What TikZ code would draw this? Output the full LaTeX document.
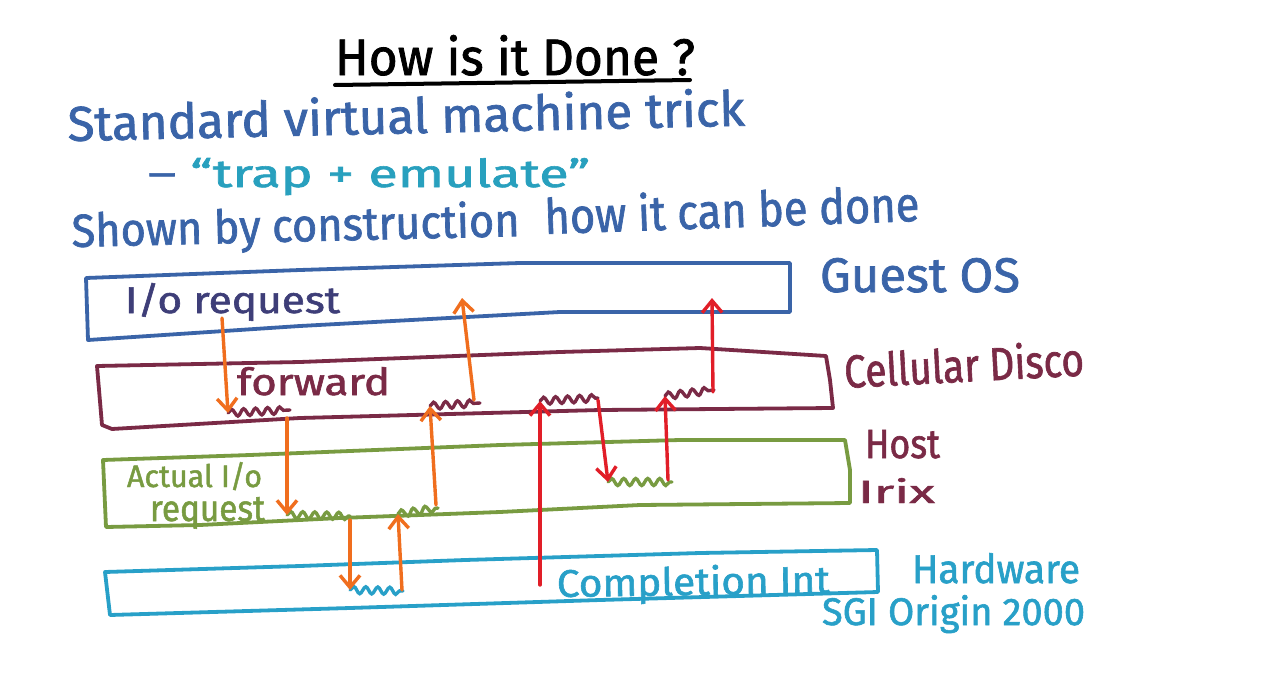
\documentclass[tikz,border=0pt]{standalone}
\usepackage{fontspec}
\setmainfont{Fira Sans}[FakeBold=1.5]
\usetikzlibrary{arrows.meta,decorations.pathmorphing}
\definecolor{penblue}{RGB}{58,100,168}
\definecolor{penteal}{RGB}{40,160,190}
\definecolor{pennavy}{RGB}{62,62,120}
\definecolor{penmaroon}{RGB}{122,42,70}
\definecolor{pengreen}{RGB}{120,155,65}
\definecolor{pencyan}{RGB}{40,160,200}
\definecolor{penorange}{RGB}{240,110,30}
\definecolor{penred}{RGB}{225,30,40}
\newcommand{\fitt}[3]{\resizebox{#1pt}{#2pt}{#3}}
\tikzset{
  txt/.style={inner sep=0pt, outer sep=0pt, anchor=base west},
  layerbox/.style={line width=3.8pt, line join=round, line cap=round},
  squig/.style={line width=3.4pt, line cap=round, decorate,
    decoration={snake, segment length=12pt, amplitude=3.5pt, post length=1pt}},
  flow/.style={line width=3.4pt, line cap=round,
    -{Straight Barb[length=12pt,width=20pt,line width=3.4pt]}},
}
\begin{document}
\begin{tikzpicture}[x=1pt,y=-1pt]
\useasboundingbox (0,0) rectangle (1288,677);
\fill[white] (0,0) rectangle (1288,677);

% ---- headings
\node[txt] (title) at (335,75) {\fitt{360}{40}{How is it Done ?}};
\coordinate (ulA) at (335,85);
\coordinate (ulB) at (690,80);
\draw[line width=4pt, line cap=round] (ulA) -- (ulB);

\node[txt, text=penblue, rotate=1.3] (l1) at (68,141) {\fitt{677}{38}{Standard virtual machine trick}};
\node[txt] (l2) at (148,187) {\fitt{442}{29}{\textcolor{penblue}{– }\textcolor{penteal}{“trap + emulate”}}};
\node[txt, text=penblue, rotate=1.4] (l3a) at (72,247) {\fitt{448}{36}{Shown by construction}};
\node[txt, text=penblue, rotate=2] (l3b) at (545,234) {\fitt{375}{38}{how it can be done}};

% ---- layer boxes
\draw[layerbox, penblue] (86,278) -- (300,270) -- (520,263) -- (790,263) -- (790,312)
  -- (560,312) -- (300,326) -- (88,340) -- cycle;
\draw[layerbox, penmaroon] (97,366) -- (300,362) -- (560,352) -- (700,348) -- (826,356)
  -- (830,380) -- (833,408) -- (600,410) -- (300,418) -- (112,429) -- (102,425) -- cycle;
\draw[layerbox, pengreen] (103,460) -- (250,455) -- (500,445) -- (680,440) -- (845,440)
  -- (850,470) -- (850,503) -- (640,505) -- (500,512) -- (340,518) -- (200,525) -- (106,527) -- cycle;
\draw[layerbox, pencyan] (105,572) -- (300,566) -- (465,560) -- (700,553) -- (877,550)
  -- (878,592) -- (600,600) -- (350,608) -- (110,615) -- cycle;

% ---- labels
\node[txt, text=penblue] (guest) at (820,292) {\fitt{200}{34}{Guest OS}};
\node[txt, text=penmaroon, rotate=3] (disco) at (845,388) {\fitt{240}{36}{Cellular Disco}};
\node[txt, text=penmaroon] (host) at (865,458) {\fitt{75}{28}{Host}};
\node[txt, text=penmaroon] (irix) at (858,503) {\fitt{77}{25}{Irix}};
\node[txt, text=pencyan] (hw) at (912,583) {\fitt{168}{30}{Hardware}};
\node[txt, text=pencyan] (sgi) at (822,625) {\fitt{263}{30}{SGI Origin 2000}};

\node[txt, text=pennavy] (ioreq) at (125,313) {\fitt{215}{30}{I/o request}};
\node[txt, text=penmaroon] (fwd) at (237,395) {\fitt{153}{28}{forward}};
\node[txt, text=pengreen] (act1) at (127,487) {\fitt{135}{25}{Actual I/o}};
\node[txt, text=pengreen] (act2) at (150,521) {\fitt{115}{24}{request}};
\node[txt, text=pencyan, rotate=0.8] (compl) at (557,597) {\fitt{273}{30}{Completion Int}};

% ---- flow coordinates
\coordinate (o1s) at (222,318); \coordinate (o1e) at (228,413);
\coordinate (m1e) at (290,410);
\coordinate (o2s) at (287,418); \coordinate (o2e) at (287,515);
\coordinate (g1e) at (350,516);
\coordinate (o3s) at (350,520); \coordinate (o3e) at (350,590);
\coordinate (c1e) at (403,591);
\coordinate (o4s) at (402,590); \coordinate (o4e) at (398,514);
\coordinate (g2e) at (438,508);
\coordinate (o5s) at (436,505); \coordinate (o5e) at (430,406);
\coordinate (m2e) at (480,403);
\coordinate (o6s) at (474,400); \coordinate (o6e) at (462,298);

\coordinate (r1s) at (540,585); \coordinate (r1e) at (540,401);
\coordinate (m3e) at (598,398);
\coordinate (r2s) at (598,400); \coordinate (r2e) at (608,482);
\coordinate (g3e) at (672,482);
\coordinate (r3s) at (668,480); \coordinate (r3e) at (665,396);
\coordinate (m4e) at (714,390);
\coordinate (r4s) at (713,392); \coordinate (r4e) at (712,298);

% ---- squiggles
\draw[squig, penmaroon] (o1e) -- (m1e);
\draw[squig, pengreen] (o2e) -- (g1e);
\draw[squig, pencyan] (o3e) -- (c1e);
\draw[squig, pengreen] (o4e) -- (g2e);
\draw[squig, penmaroon] (o5e) -- (m2e);
\draw[squig, penmaroon] (r1e) -- (m3e);
\draw[squig, pengreen] (r2e) -- (g3e);
\draw[squig, penmaroon] (r3e) -- (m4e);

% ---- arrows
\draw[flow, penorange] (o1s) -- (o1e);
\draw[flow, penorange] (o2s) -- (o2e);
\draw[flow, penorange] (o3s) -- (o3e);
\draw[flow, penorange] (o4s) -- (o4e);
\draw[flow, penorange] (o5s) -- (o5e);
\draw[flow, penorange] (o6s) -- (o6e);
\draw[flow, penred] (r1s) -- (r1e);
\draw[flow, penred] (r2s) -- (r2e);
\draw[flow, penred] (r3s) -- (r3e);
\draw[flow, penred] (r4s) -- (r4e);
\end{tikzpicture}
\end{document}
